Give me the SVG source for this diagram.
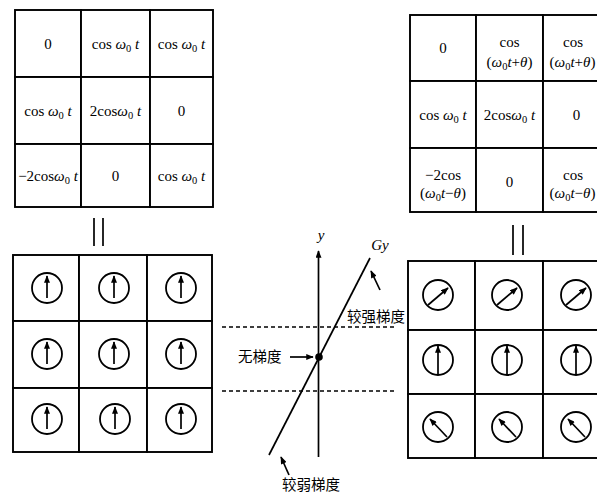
<svg xmlns="http://www.w3.org/2000/svg" width="597" height="494" viewBox="0 0 597 494">
<style>
.bg{fill:#fff}
.cell{fill:#fff;stroke:#000;stroke-width:1.9}
.t{font-family:"Liberation Serif",serif;font-size:15px;fill:#000;text-anchor:middle}
.i{font-style:italic}
.s{font-size:10.5px}
.cn{font-family:"Noto Sans CJK SC",sans-serif;font-size:14.5px;fill:#000}
.ln{stroke:#000;stroke-width:1.7;fill:none}
.dash{stroke:#000;stroke-width:1.4;stroke-dasharray:4,3;fill:none}
.circ{fill:none;stroke:#000;stroke-width:1.8}
.arr{stroke:#000;stroke-width:1.7;fill:none;marker-end:url(#ah)}
</style>
<defs>
<marker id="ah" viewBox="0 0 10 8" refX="9" refY="4" markerWidth="8.5" markerHeight="6" markerUnits="userSpaceOnUse" orient="auto">
<path d="M0,0 L10,4 L0,8 Z" fill="#000"/>
</marker>
</defs>
<rect class="bg" x="0" y="0" width="597" height="494"/>

<!-- Top-left table -->
<g id="tableTL">
<g id="tl11"><rect class="cell" x="15" y="10" width="66" height="67"/><text class="t" x="48" y="49">0</text></g>
<g id="tl12"><rect class="cell" x="81" y="10" width="69" height="67"/><text class="t" x="115.5" y="49">cos <tspan class="i">ω</tspan><tspan class="s" dy="3">0</tspan><tspan dy="-3"> </tspan><tspan class="i">t</tspan></text></g>
<g id="tl13"><rect class="cell" x="150" y="10" width="63" height="67"/><text class="t" x="181.5" y="49">cos <tspan class="i">ω</tspan><tspan class="s" dy="3">0</tspan><tspan dy="-3"> </tspan><tspan class="i">t</tspan></text></g>
<g id="tl21"><rect class="cell" x="15" y="77" width="66" height="67"/><text class="t" x="48" y="116">cos <tspan class="i">ω</tspan><tspan class="s" dy="3">0</tspan><tspan dy="-3"> </tspan><tspan class="i">t</tspan></text></g>
<g id="tl22"><rect class="cell" x="81" y="77" width="69" height="67"/><text class="t" x="115.5" y="116">2cos<tspan class="i">ω</tspan><tspan class="s" dy="3">0</tspan><tspan dy="-3"> </tspan><tspan class="i">t</tspan></text></g>
<g id="tl23"><rect class="cell" x="150" y="77" width="63" height="67"/><text class="t" x="181.5" y="116">0</text></g>
<g id="tl31"><rect class="cell" x="15" y="144" width="66" height="63"/><text class="t" x="48" y="181">−2cos<tspan class="i">ω</tspan><tspan class="s" dy="3">0</tspan><tspan dy="-3"> </tspan><tspan class="i">t</tspan></text></g>
<g id="tl32"><rect class="cell" x="81" y="144" width="69" height="63"/><text class="t" x="115.5" y="181">0</text></g>
<g id="tl33"><rect class="cell" x="150" y="144" width="63" height="63"/><text class="t" x="181.5" y="181">cos <tspan class="i">ω</tspan><tspan class="s" dy="3">0</tspan><tspan dy="-3"> </tspan><tspan class="i">t</tspan></text></g>
</g>

<!-- Top-right table -->
<g id="tableTR">
<g id="tr11"><rect class="cell" x="410" y="15" width="66" height="66"/><text class="t" x="443" y="53">0</text></g>
<g id="tr12"><rect class="cell" x="476" y="15" width="67" height="66"/><text class="t" x="509.5" y="47">cos</text><text class="t" x="509.5" y="67">(<tspan class="i">ω</tspan><tspan class="s" dy="3">0</tspan><tspan class="i" dy="-3">t</tspan>+<tspan class="i">θ</tspan>)</text></g>
<g id="tr13"><rect class="cell" x="543" y="15" width="70" height="66"/><text class="t" x="573" y="47">cos</text><text class="t" x="572.5" y="67">(<tspan class="i">ω</tspan><tspan class="s" dy="3">0</tspan><tspan class="i" dy="-3">t</tspan>+<tspan class="i">θ</tspan>)</text></g>
<g id="tr21"><rect class="cell" x="410" y="81" width="66" height="67"/><text class="t" x="443" y="120">cos <tspan class="i">ω</tspan><tspan class="s" dy="3">0</tspan><tspan dy="-3"> </tspan><tspan class="i">t</tspan></text></g>
<g id="tr22"><rect class="cell" x="476" y="81" width="67" height="67"/><text class="t" x="509.5" y="120">2cos<tspan class="i">ω</tspan><tspan class="s" dy="3">0</tspan><tspan dy="-3"> </tspan><tspan class="i">t</tspan></text></g>
<g id="tr23"><rect class="cell" x="543" y="81" width="70" height="67"/><text class="t" x="576.5" y="120">0</text></g>
<g id="tr31"><rect class="cell" x="410" y="148" width="66" height="64"/><text class="t" x="443" y="180">−2cos</text><text class="t" x="443" y="198">(<tspan class="i">ω</tspan><tspan class="s" dy="3">0</tspan><tspan class="i" dy="-3">t</tspan>−<tspan class="i">θ</tspan>)</text><circle cx="477.5" cy="188" r="1.3" fill="#000"/></g>
<g id="tr32"><rect class="cell" x="476" y="148" width="67" height="64"/><text class="t" x="509.5" y="187">0</text></g>
<g id="tr33"><rect class="cell" x="543" y="148" width="70" height="64"/><text class="t" x="573" y="180">cos</text><text class="t" x="572.5" y="198">(<tspan class="i">ω</tspan><tspan class="s" dy="3">0</tspan><tspan class="i" dy="-3">t</tspan>−<tspan class="i">θ</tspan>)</text></g>
</g>

<!-- Bottom-left grid -->
<g id="gridBL">
<g id="bl11"><rect class="cell" x="13" y="255" width="66" height="66"/><circle class="circ" cx="47" cy="288" r="15"/><line class="arr" x1="47" y1="298" x2="47" y2="276"/></g>
<g id="bl12"><rect class="cell" x="79" y="255" width="68" height="66"/><circle class="circ" cx="114" cy="288" r="15"/><line class="arr" x1="114" y1="298" x2="114" y2="276"/></g>
<g id="bl13"><rect class="cell" x="147" y="255" width="65" height="66"/><circle class="circ" cx="181" cy="288" r="15"/><line class="arr" x1="181" y1="298" x2="181" y2="276"/></g>
<g id="bl21"><rect class="cell" x="13" y="321" width="66" height="67"/><circle class="circ" cx="47" cy="354" r="15"/><line class="arr" x1="47" y1="364" x2="47" y2="342"/></g>
<g id="bl22"><rect class="cell" x="79" y="321" width="68" height="67"/><circle class="circ" cx="114" cy="354" r="15"/><line class="arr" x1="114" y1="364" x2="114" y2="342"/></g>
<g id="bl23"><rect class="cell" x="147" y="321" width="65" height="67"/><circle class="circ" cx="181" cy="354" r="15"/><line class="arr" x1="181" y1="364" x2="181" y2="342"/></g>
<g id="bl31"><rect class="cell" x="13" y="388" width="66" height="64"/><circle class="circ" cx="47" cy="419" r="15"/><line class="arr" x1="47" y1="429" x2="47" y2="407"/></g>
<g id="bl32"><rect class="cell" x="79" y="388" width="68" height="64"/><circle class="circ" cx="115" cy="419" r="15"/><line class="arr" x1="115" y1="429" x2="115" y2="407"/></g>
<g id="bl33"><rect class="cell" x="147" y="388" width="65" height="64"/><circle class="circ" cx="181" cy="419" r="15"/><line class="arr" x1="181" y1="429" x2="181" y2="407"/></g>
</g>

<!-- Bottom-right grid -->
<g id="gridBR">
<g id="br11"><rect class="cell" x="408" y="261" width="67" height="69"/><circle class="circ" cx="438" cy="295" r="15"/><line class="arr" x1="428" y1="305" x2="448" y2="288"/></g>
<g id="br12"><rect class="cell" x="475" y="261" width="68" height="69"/><circle class="circ" cx="507" cy="295" r="15"/><line class="arr" x1="497" y1="305" x2="517" y2="288"/></g>
<g id="br13"><rect class="cell" x="543" y="261" width="70" height="69"/><circle class="circ" cx="576" cy="295" r="15"/><line class="arr" x1="566" y1="305" x2="586" y2="288"/></g>
<g id="br21"><rect class="cell" x="408" y="330" width="67" height="64"/><circle class="circ" cx="438" cy="360" r="15"/><line class="arr" x1="438" y1="375" x2="438" y2="346"/></g>
<g id="br22"><rect class="cell" x="475" y="330" width="68" height="64"/><circle class="circ" cx="507" cy="360" r="15"/><line class="arr" x1="507" y1="375" x2="507" y2="346"/></g>
<g id="br23"><rect class="cell" x="543" y="330" width="70" height="64"/><circle class="circ" cx="576" cy="360" r="15"/><line class="arr" x1="576" y1="375" x2="576" y2="346"/></g>
<g id="br31"><rect class="cell" x="408" y="394" width="67" height="64"/><circle class="circ" cx="438" cy="427" r="15"/><line class="arr" x1="447" y1="437" x2="430" y2="419"/></g>
<g id="br32"><rect class="cell" x="475" y="394" width="68" height="64"/><circle class="circ" cx="507" cy="427" r="15"/><line class="arr" x1="516" y1="437" x2="499" y2="419"/></g>
<g id="br33"><rect class="cell" x="543" y="394" width="70" height="64"/><circle class="circ" cx="576" cy="427" r="15"/><line class="arr" x1="585" y1="437" x2="568" y2="419"/></g>
</g>

<!-- Center gradient diagram labels -->
<g id="labels">
<text class="t i" x="321" y="240">y</text>
<text class="t i" x="380" y="250">Gy</text>
<text class="cn" x="238" y="362">无梯度</text>
<text class="cn" x="347" y="322">较强梯度</text>
<text class="cn" x="282" y="490">较弱梯度</text>
</g>

<!-- Connectors -->
<g id="connectors">
<line class="ln" x1="94" y1="218" x2="94" y2="246"/>
<line class="ln" x1="103" y1="218" x2="103" y2="246"/>
<line class="ln" x1="513" y1="225" x2="513" y2="255"/>
<line class="ln" x1="523" y1="225" x2="523" y2="255"/>
<line class="dash" x1="222" y1="327" x2="397" y2="327"/>
<line class="dash" x1="222" y1="391" x2="397" y2="391"/>
<line class="arr" x1="318.5" y1="457" x2="318.5" y2="251"/>
<line class="ln" x1="269" y1="455" x2="370" y2="258"/>
<circle cx="319" cy="357" r="3.8" fill="#000"/>
<line class="arr" x1="290" y1="357" x2="313" y2="357"/>
<line class="arr" x1="380" y1="290" x2="371" y2="271"/>
<line class="arr" x1="289" y1="475" x2="281" y2="457"/>
</g>
</svg>
